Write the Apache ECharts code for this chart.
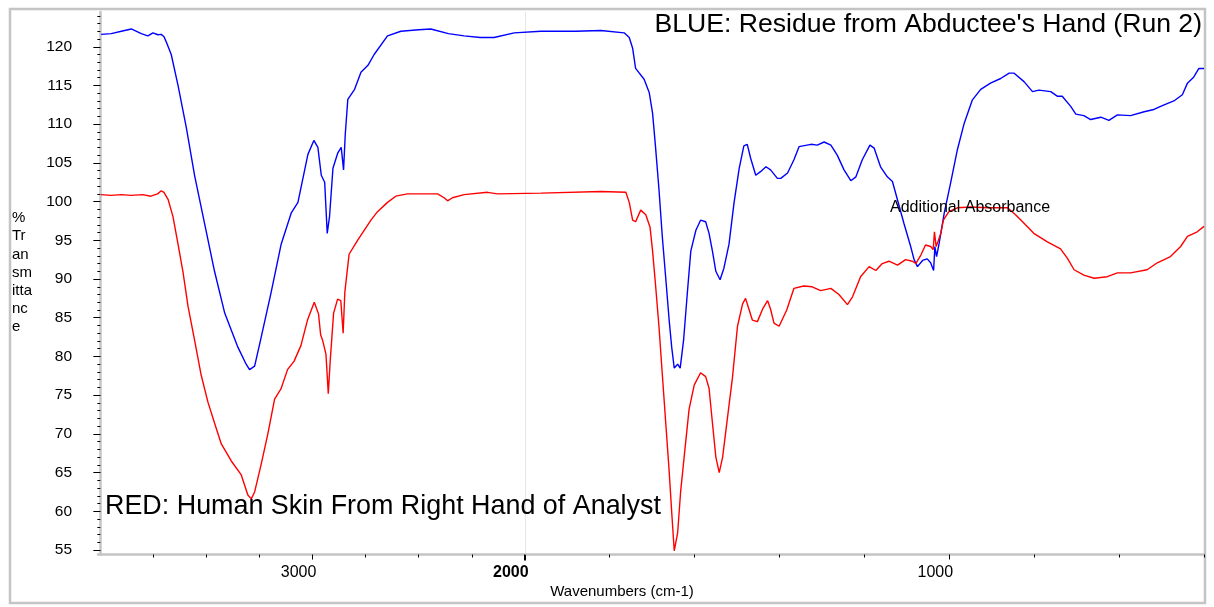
<!DOCTYPE html>
<html><head><meta charset="utf-8">
<script src="https://cdn.jsdelivr.net/npm/echarts@6/dist/echarts.min.js"></script>
<style>html,body{margin:0;padding:0;background:#fff}#c{width:1214px;height:607px}</style>
</head><body><div id="c"></div>
<script>
// Wavenumbers (cm-1) and % transmittance
const blueWn = [3996,3949,3901,3854,3807,3776,3752,3729,3713,3700,3689,3666,3634,3595,3556,3509,3462,3414,3352,3313,3297,3273,3242,3195,3148,3101,3069,3022,2994,2975,2959,2943,2931,2920,2904,2881,2865,2854,2846,2834,2802,2772,2739,2710,2647,2584,2500,2443,2360,2286,2210,2145,2050,1962,1880,1821,1766,1754,1746,1739,1719,1707,1699,1692,1684,1676,1668,1660,1654,1648,1640,1634,1626,1617,1609,1597,1586,1574,1566,1558,1550,1540,1531,1519,1507,1495,1484,1476,1468,1456,1444,1432,1421,1405,1397,1381,1366,1354,1326,1311,1295,1279,1264,1248,1232,1220,1205,1187,1177,1162,1146,1134,1122,1107,1091,1083,1075,1063,1052,1044,1037,1034,1030,1024,1012,997,981,965,946,926,903,879,859,848,824,804,789,761,745,734,714,702,683,667,643,624,604,573,541,518,494,471,451,439,424,412,400];
const blueT = [121.6,121.7,122.0,122.3,121.7,121.4,121.8,121.55,121.6,121.3,120.6,119.0,115.0,109.6,103.4,97.2,91.0,85.6,81.2,79.0,78.3,78.75,82.5,88.3,94.5,98.5,99.9,106.1,107.9,107.0,103.4,102.5,95.9,98.1,104.3,106.3,107.0,104.1,108.7,113.2,114.5,116.7,117.6,119.0,121.4,122.0,122.2,122.3,121.7,121.4,121.2,121.2,121.8,122.0,122.0,122.1,121.8,121.2,119.8,117.2,115.8,114.1,111.4,107.0,101.6,95.4,90.1,84.7,81.2,78.5,79.0,78.5,82.1,88.3,93.6,96.3,97.6,97.4,95.9,93.6,91.0,89.9,91.4,94.5,99.9,104.3,107.2,107.4,105.6,103.4,103.9,104.5,104.1,103.0,103.0,103.7,105.4,107.1,107.4,107.3,107.7,107.3,106.0,104.1,102.7,103.2,105.4,107.3,106.9,104.5,103.2,102.6,100.2,97.2,94.2,92.5,91.6,92.4,92.6,92.1,91.1,94.2,92.9,94.6,98.5,102.4,106.7,110.1,113.1,114.5,115.3,115.9,116.6,116.6,115.5,114.2,114.4,114.2,113.6,113.6,112.3,111.3,111.1,110.6,110.9,110.5,111.2,111.1,111.6,111.9,112.5,113.0,113.8,115.3,116.1,117.2,117.2];

const redWn = [3997,3950,3900,3856,3800,3762,3730,3713,3700,3681,3658,3634,3611,3587,3556,3525,3493,3462,3430,3383,3336,3305,3289,3273,3242,3210,3179,3149,3118,3087,3055,3024,2992,2972,2962,2953,2937,2926,2917,2901,2882,2867,2856,2848,2828,2788,2725,2694,2647,2608,2553,2411,2380,2364,2341,2286,2176,2129,1962,1821,1762,1754,1746,1739,1727,1715,1705,1699,1692,1684,1676,1668,1660,1654,1648,1640,1633,1623,1613,1601,1586,1574,1566,1558,1550,1542,1534,1523,1511,1499,1487,1480,1472,1464,1452,1440,1428,1421,1413,1401,1383,1366,1343,1323,1303,1279,1260,1240,1228,1209,1189,1173,1158,1142,1122,1103,1087,1079,1067,1056,1044,1038,1035,1031,1027,1020,1014,1001,981,950,910,863,844,824,801,769,738,722,706,683,659,628,604,573,534,510,479,455,439,416,400];
const redT = [100.9,100.8,100.9,100.8,100.9,100.7,101.0,101.4,101.2,100.3,98.1,94.5,91.0,86.5,82.1,77.6,74.1,71.4,68.7,66.5,64.7,62.1,61.6,62.5,66.1,70.1,74.5,75.8,78.3,79.4,81.4,84.7,87.0,85.5,82.8,82.1,80.3,75.2,79.4,85.6,87.4,87.2,83.0,88.3,93.2,95.0,97.6,98.7,99.9,100.7,101.0,101.0,100.5,100.1,100.5,100.9,101.2,101.0,101.1,101.3,101.2,99.9,97.6,97.4,98.9,98.3,96.7,93.6,89.2,83.9,77.6,71.4,65.2,59.9,54.9,57.2,62.5,67.9,73.2,76.3,77.9,77.4,75.9,71.4,67.0,65.0,67.0,71.9,77.2,83.9,86.8,87.5,86.1,84.7,84.5,86.1,87.2,86.1,84.3,83.9,86.0,88.8,89.1,89.0,88.5,88.8,88.0,86.7,87.7,90.3,91.6,91.1,92.0,92.3,91.8,92.5,92.3,92.0,93.1,94.4,94.2,93.8,96.1,94.2,94.8,95.9,97.6,98.7,99.2,99.3,99.2,99.2,98.3,97.2,95.9,94.8,93.9,92.7,91.2,90.5,90.1,90.3,90.8,90.8,91.2,92.1,92.9,94.2,95.5,96.1,96.8];

const xLabelWn = [3000, 1000];
const xBoldWn = [2000];
const xMinorWn = [3750, 3500, 3250, 2750, 2500, 2250, 1800, 1600, 1400, 1200, 800, 600, 400];
const yLabelVals = [55, 60, 65, 70, 75, 80, 85, 90, 95, 100, 105, 110, 115, 120];
const yMinorVals = [];
for (let v = 55; v <= 124; v++) yMinorVals.push(v);

// piecewise wavenumber scale: 2x expansion below 2000 cm-1
function pos(wn) { return wn >= 2000 ? 4000 - wn : 2000 + 2 * (2000 - wn); }
function wnOf(t) { return t <= 2000 ? 4000 - t : 2000 - (t - 2000) / 2; }

const FONT = "'Liberation Sans', Arial, Helvetica, sans-serif";
const XMIN = -11, XMAX = 5200, YMIN = 54.42, YMAX = 124.49;

const blueData = blueWn.map((w, i) => [pos(w), blueT[i]]);
const redData = redWn.map((w, i) => [pos(w), redT[i]]);

const baseX = {
  type: 'value', min: XMIN, max: XMAX, position: 'bottom', offset: 0,
  splitLine: { show: false }, axisLine: { show: false }
};
const baseY = {
  type: 'value', min: YMIN, max: YMAX, position: 'left', offset: 0,
  splitLine: { show: false }, axisLine: { show: false }
};

const chart = echarts.init(document.getElementById('c'));
chart.setOption({
  animation: false,
  backgroundColor: '#ffffff',
  grid: { left: 98, right: 10, top: 12, bottom: 52.5, containLabel: false },
  xAxis: [
    Object.assign({}, baseX, {
      axisLine: { show: true, lineStyle: { color: '#c4c4c4', width: 2.5 } },
      axisTick: { show: true, customValues: xMinorWn.map(pos), length: 3, lineStyle: { color: '#000', width: 1 } },
      axisLabel: { show: false }
    }),
    Object.assign({}, baseX, {
      axisTick: { show: true, customValues: xLabelWn.map(pos), length: 5, lineStyle: { color: '#000', width: 1 } },
      axisLabel: { show: true, customValues: xLabelWn.map(pos), formatter: v => String(Math.round(wnOf(v))),
        fontFamily: FONT, fontSize: 16, color: '#000', margin: 10, padding: [0, 28, 0, 0] }
    }),
    Object.assign({}, baseX, {
      axisTick: { show: true, customValues: xBoldWn.map(pos), length: 6, lineStyle: { color: '#000', width: 2 } },
      axisLabel: { show: true, customValues: xBoldWn.map(pos), formatter: v => String(Math.round(wnOf(v))),
        fontFamily: FONT, fontSize: 16, fontWeight: 'bold', color: '#000', margin: 10, padding: [0, 28, 0, 0] }
    })
  ],
  yAxis: [
    Object.assign({}, baseY, {
      axisLine: { show: true, lineStyle: { color: '#c4c4c4', width: 2.5 } },
      axisTick: { show: true, customValues: yLabelVals, length: 7, lineStyle: { color: '#000', width: 1 } },
      axisLabel: { show: true, customValues: yLabelVals, fontFamily: FONT, fontSize: 15.5, color: '#000', margin: 26 }
    }),
    Object.assign({}, baseY, {
      axisTick: { show: true, customValues: yMinorVals, length: 3, lineStyle: { color: '#000', width: 1 } },
      axisLabel: { show: false }
    })
  ],
  series: [
    {
      type: 'line', name: 'blue', xAxisIndex: 0, yAxisIndex: 0, data: blueData,
      showSymbol: false, symbol: 'none', smooth: false,
      lineStyle: { color: '#0000ff', width: 1.4 }, z: 3,
      markLine: {
        silent: true, symbol: 'none', label: { show: false },
        lineStyle: { color: '#cfcfcf', type: 'dotted', width: 1 },
        data: [{ xAxis: pos(2000) }], z: 1
      }
    },
    {
      type: 'line', name: 'red', xAxisIndex: 0, yAxisIndex: 0, data: redData,
      showSymbol: false, symbol: 'none', smooth: false,
      lineStyle: { color: '#ff0000', width: 1.4 }, z: 4
    }
  ],
  graphic: [
    { type: 'rect', shape: { x: 10, y: 9, width: 1195, height: 594 }, style: { fill: 'none', stroke: '#c4c4c4', lineWidth: 2.5 }, z: -1, silent: true },
    { type: 'text', x: 12, y: 209, style: { text: '%\nTr\nan\nsm\nitta\nnc\ne', font: '15px ' + FONT, lineHeight: 18.2, fill: '#000', textAlign: 'left', textVerticalAlign: 'top' } },
    { type: 'text', x: 1202, y: 25, style: { text: "BLUE: Residue from Abductee's Hand (Run 2)", font: '26.6px ' + FONT, fill: '#000', textAlign: 'right', textVerticalAlign: 'middle' }, z: 10 },
    { type: 'text', x: 105, y: 507, style: { text: 'RED: Human Skin From Right Hand of Analyst', font: '26.9px ' + FONT, fill: '#000', textAlign: 'left', textVerticalAlign: 'middle' }, z: 10 },
    { type: 'text', x: 890, y: 208, style: { text: 'Additional Absorbance', font: '16px ' + FONT, fill: '#000', textAlign: 'left', textVerticalAlign: 'middle' }, z: 10 },
    { type: 'text', x: 622, y: 592, style: { text: 'Wavenumbers (cm-1)', font: '15px ' + FONT, fill: '#000', textAlign: 'center', textVerticalAlign: 'middle' }, z: 10 }
  ]
});
</script>
</body></html>
